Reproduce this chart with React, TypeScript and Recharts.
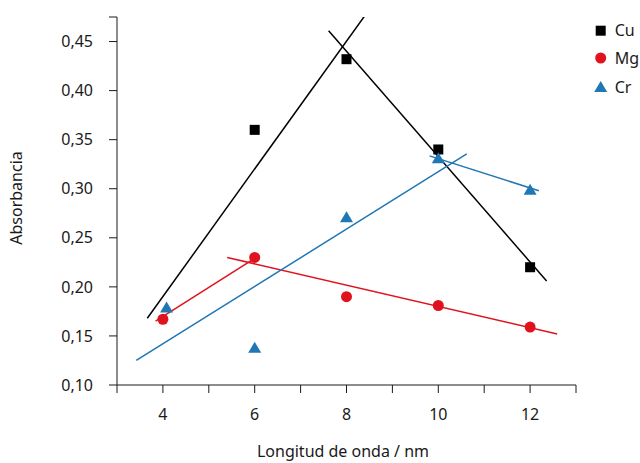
import React from 'react';
import { ScatterChart, Scatter, XAxis, YAxis, Label } from 'recharts';

// puntos medidos
const cuData = [
  { x: 6, y: 0.36 },
  { x: 8, y: 0.432 },
  { x: 10, y: 0.34 },
  { x: 12, y: 0.22 },
];
const mgData = [
  { x: 4, y: 0.167 },
  { x: 6, y: 0.23 },
  { x: 8, y: 0.19 },
  { x: 10, y: 0.181 },
  { x: 12, y: 0.159 },
];
const crData = [
  { x: 4.08, y: 0.179 },
  { x: 6, y: 0.138 },
  { x: 8, y: 0.271 },
  { x: 10, y: 0.331 },
  { x: 12, y: 0.299 },
];

// rectas de ajuste (extremos de cada tramo)
const cuFitA = [{ x: 3.66, y: 0.168 }, { x: 8.41, y: 0.477 }];
const cuFitB = [{ x: 7.61, y: 0.461 }, { x: 12.36, y: 0.206 }];
const mgFitA = [{ x: 3.84, y: 0.165 }, { x: 6.0, y: 0.229 }];
const mgFitB = [{ x: 5.4, y: 0.23 }, { x: 12.59, y: 0.152 }];
const crFitA = [{ x: 3.42, y: 0.125 }, { x: 10.62, y: 0.3355 }];
const crFitB = [{ x: 9.81, y: 0.3335 }, { x: 12.19, y: 0.298 }];

const xTicks = [3, 4, 5, 6, 7, 8, 9, 10, 11, 12, 13];
const yTicks = [0.1, 0.15, 0.2, 0.25, 0.3, 0.35, 0.4, 0.45, 0.475];
const legendItems = ['Cu', 'Mg', 'Cr'];

const BLACK = '#000000';
const RED = '#e0121d';
const BLUE = '#1f77b4';
const FONT = '"Noto Sans", sans-serif';
const AXIS = '#1a1a1a';

const Square = (props: any) => {
  const { cx, cy } = props;
  return <rect x={cx - 5} y={cy - 5} width={10} height={10} fill={BLACK} />;
};
const Dot = (props: any) => {
  const { cx, cy } = props;
  return <circle cx={cx} cy={cy} r={5.5} fill={RED} />;
};
const Tri = (props: any) => {
  const { cx, cy } = props;
  return <polygon points={`${cx},${cy - 6} ${cx + 6.5},${cy + 5} ${cx - 6.5},${cy + 5}`} fill={BLUE} />;
};
const Nothing = () => <g />;

const fmtX = (v: number) => (v % 2 === 0 && v >= 4 && v <= 12 ? String(v) : '');
const fmtY = (v: number) => (v > 0.46 ? '' : v.toFixed(2).replace('.', ','));

const fitLine = (color: string) => ({ stroke: color, strokeWidth: 1.5 });

export default function App() {
  return (
    <div style={{ position: 'absolute', left: 0, top: 0, width: 640, height: 463, background: '#fff' }}>
      <ScatterChart width={640} height={463} margin={{ top: 17, right: 64, bottom: 0, left: 0 }}>
        <XAxis
          type="number"
          dataKey="x"
          domain={[3, 13]}
          ticks={xTicks}
          tickFormatter={fmtX}
          interval={0}
          height={78}
          tickSize={8}
          tickMargin={16}
          stroke={AXIS}
          tick={{ fill: '#1a1a1a', fontSize: 16, fontFamily: FONT }}
          allowDataOverflow
        >
          <Label
            content={() => (
              <text x={343} y={457} textAnchor="middle" fill="#1a1a1a" fontSize={16} fontFamily={FONT}>
                Longitud de onda / nm
              </text>
            )}
          />
        </XAxis>
        <YAxis
          type="number"
          dataKey="y"
          domain={[0.1, 0.475]}
          ticks={yTicks}
          tickFormatter={fmtY}
          interval={0}
          width={117}
          tickSize={8}
          tickMargin={16}
          stroke={AXIS}
          tick={{ fill: '#1a1a1a', fontSize: 16, fontFamily: FONT }}
          allowDataOverflow
        >
          <Label
            content={() => (
              <text
                x={22}
                y={198}
                transform="rotate(-90 22 198)"
                textAnchor="middle"
                fill="#1a1a1a"
                fontSize={16}
                fontFamily={FONT}
              >
                Absorbancia
              </text>
            )}
          />
        </YAxis>

        <Scatter data={cuFitA} line={fitLine(BLACK)} shape={Nothing} isAnimationActive={false} />
        <Scatter data={cuFitB} line={fitLine(BLACK)} shape={Nothing} isAnimationActive={false} />
        <Scatter data={mgFitA} line={fitLine(RED)} shape={Nothing} isAnimationActive={false} />
        <Scatter data={mgFitB} line={fitLine(RED)} shape={Nothing} isAnimationActive={false} />
        <Scatter data={crFitA} line={fitLine(BLUE)} shape={Nothing} isAnimationActive={false} />
        <Scatter data={crFitB} line={fitLine(BLUE)} shape={Nothing} isAnimationActive={false} />

        <Scatter name="Cu" data={cuData} shape={Square} isAnimationActive={false} />
        <Scatter name="Mg" data={mgData} shape={Dot} isAnimationActive={false} />
        <Scatter name="Cr" data={crData} shape={Tri} isAnimationActive={false} />
      </ScatterChart>

      <svg width={60} height={100} style={{ position: 'absolute', left: 590, top: 14 }}>
        <g transform="translate(10.7,16.7)">
          <rect x={-5} y={-5} width={10} height={10} fill={BLACK} />
          <text x={14} y={5.5} fontSize={16} fontFamily={FONT} fill="#1a1a1a">{legendItems[0]}</text>
        </g>
        <g transform="translate(10.7,44)">
          <circle r={5.5} fill={RED} />
          <text x={14} y={5.5} fontSize={16} fontFamily={FONT} fill="#1a1a1a">{legendItems[1]}</text>
        </g>
        <g transform="translate(10.7,73)">
          <polygon points="0,-6 6.5,5 -6.5,5" fill={BLUE} />
          <text x={14} y={5.5} fontSize={16} fontFamily={FONT} fill="#1a1a1a">{legendItems[2]}</text>
        </g>
      </svg>
    </div>
  );
}
